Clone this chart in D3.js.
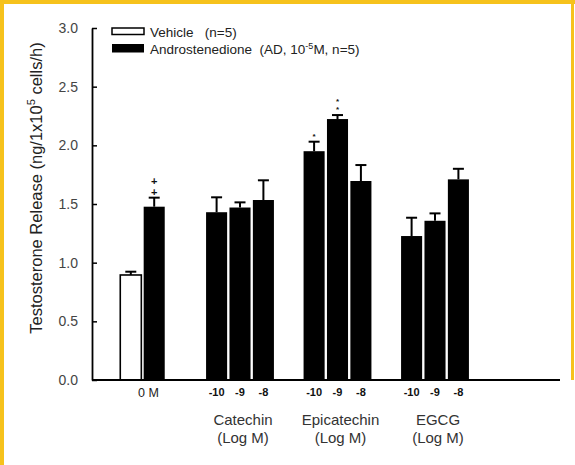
<!DOCTYPE html>
<html>
<head>
<meta charset="utf-8">
<script src="https://cdn.jsdelivr.net/npm/d3@7"></script>
<style>
  body { margin: 0; background: #fff; }
  svg { display: block; font-family: "Liberation Sans", Arial, sans-serif; }
</style>
</head>
<body>
<div id="chart"></div>
<script>
// groups along the x axis
var groups = ["0 M", "Catechin", "Epicatechin", "EGCG"];
var groupTicks = ["0 M", "", "", ""];
var groupNames = ["", "Catechin", "Epicatechin", "EGCG"];

// one entry per bar
var barGroup = ["0 M", "0 M", "Catechin", "Catechin", "Catechin",
  "Epicatechin", "Epicatechin", "Epicatechin", "EGCG", "EGCG", "EGCG"];
var barKey = ["veh", "ad", "-10", "-9", "-8", "-10", "-9", "-8", "-10", "-9", "-8"];
var barTick = ["", "", "-10", "-9", "-8", "-10", "-9", "-8", "-10", "-9", "-8"];
var barSeries = ["Vehicle", "AD", "AD", "AD", "AD", "AD", "AD", "AD", "AD", "AD", "AD"];
var means = [0.895, 1.477, 1.43, 1.47, 1.534, 1.95, 2.224, 1.696, 1.227, 1.357, 1.71];
var sems  = [0.028, 0.077, 0.127, 0.044, 0.168, 0.081, 0.034, 0.136, 0.156, 0.063, 0.09];
var marks = ["", "++", "", "", "", "*", "**", "", "", "", ""];

var yTicks = [0, 0.5, 1.0, 1.5, 2.0, 2.5, 3.0];

var W = 575, H = 465;
var margin = { top: 28, left: 92, bottom: 85 };

var svg = d3.select("#chart").append("svg")
  .attr("width", W).attr("height", H);

// yellow frame
var frame = "#f6c21c";
svg.append("line").attr("x1", 2).attr("x2", 2).attr("y1", 0).attr("y2", H)
  .attr("stroke", frame).attr("stroke-width", 4);
svg.append("line").attr("x1", 0).attr("x2", W).attr("y1", 2).attr("y2", 2)
  .attr("stroke", frame).attr("stroke-width", 4);
svg.append("line").attr("x1", 572.5).attr("x2", 572.5).attr("y1", 0).attr("y2", 380)
  .attr("stroke", frame).attr("stroke-width", 3);

var y = d3.scaleLinear().domain([0, 3]).range([H - margin.bottom, margin.top]);

var x = d3.scaleBand().domain(groups).range([93.75, 483.75]).padding(0);

var step = 23.4;
function inner(g) {
  var keys = barKey.filter(function (k, i) { return barGroup[i] == g; });
  var c = x(g) + x.bandwidth() / 2;
  return d3.scaleBand().domain(keys)
    .range([c - keys.length * step / 2, c + keys.length * step / 2])
    .paddingInner(0.1).paddingOuter(0.05);
}
var innerScales = {};
groups.forEach(function (g) { innerScales[g] = inner(g); });

var bars = means.map(function (m, i) {
  var s = innerScales[barGroup[i]];
  return { x: s(barKey[i]), w: s.bandwidth(), v: m, e: sems[i], series: barSeries[i], tick: barTick[i], mark: marks[i] };
});

// bars
svg.append("g").selectAll("rect").data(bars).enter().append("rect")
  .attr("x", function (d) { return d.x; })
  .attr("y", function (d) { return y(d.v); })
  .attr("width", function (d) { return d.w; })
  .attr("height", function (d) { return y(0) - y(d.v); })
  .attr("fill", function (d) { return d.series == "Vehicle" ? "#fff" : "#000"; })
  .attr("stroke", "#000")
  .attr("stroke-width", function (d) { return d.series == "Vehicle" ? 1.6 : 0; });

// error bars
var eb = svg.append("g").attr("stroke", "#000").attr("stroke-width", 2);
bars.forEach(function (d) {
  var cx = d.x + d.w / 2;
  eb.append("line").attr("x1", cx).attr("x2", cx)
    .attr("y1", y(d.v)).attr("y2", y(d.v + d.e));
  eb.append("line").attr("x1", cx - 5.5).attr("x2", cx + 5.5)
    .attr("y1", y(d.v + d.e)).attr("y2", y(d.v + d.e));
});

// significance marks, stacked upward in one text element
bars.forEach(function (d) {
  if (!d.mark) return;
  var cx = d.x + d.w / 2;
  var plus = d.mark[0] == "+";
  var gap = plus ? 11 : 8.2;
  var lift = plus ? 2 : 3;
  var n = d.mark.length;
  var t = svg.append("text")
    .attr("text-anchor", "middle")
    .attr("font-size", plus ? 11 : 8)
    .attr("font-weight", "bold")
    .attr("fill", "#111");
  d.mark.split("").forEach(function (ch, k) {
    t.append("tspan").attr("x", cx)
      .attr("y", y(d.v + d.e) - lift - (n - 1 - k) * gap)
      .text(ch);
  });
});

// y axis
svg.append("g")
  .attr("transform", "translate(" + margin.left + ",0)")
  .call(d3.axisLeft(y).tickValues(yTicks).tickFormat(d3.format(".1f"))
    .tickSizeInner(-5).tickSizeOuter(0).tickPadding(14))
  .call(function (g) {
    g.select(".domain").attr("stroke-width", 1.8);
    g.selectAll(".tick line").attr("stroke-width", 1.5);
    g.selectAll(".tick text").attr("font-size", 14).attr("fill", "#444")
      .attr("font-family", "Liberation Sans, Arial, sans-serif");
  });

// x baseline
svg.append("line")
  .attr("x1", margin.left).attr("x2", 560)
  .attr("y1", y(0)).attr("y2", y(0))
  .attr("stroke", "#000").attr("stroke-width", 2);

// bar tick labels
svg.append("g").selectAll("text").data(bars.filter(function (d) { return d.tick; }))
  .enter().append("text")
  .attr("x", function (d) { return d.x + d.w / 2; })
  .attr("y", 396)
  .attr("text-anchor", "middle")
  .attr("font-size", 11).attr("font-weight", "bold").attr("fill", "#111")
  .text(function (d) { return d.tick; });

groups.forEach(function (g, i) {
  var cx = x(g) + x.bandwidth() / 2;
  if (groupTicks[i]) {
    svg.append("text").attr("x", cx + 6).attr("y", 397)
      .attr("text-anchor", "middle").attr("font-size", 12.5).attr("fill", "#222")
      .text(groupTicks[i]);
  }
  if (groupNames[i]) {
    svg.append("text").attr("x", cx + 3).attr("y", 425)
      .attr("text-anchor", "middle").attr("font-size", 15).attr("fill", "#333")
      .text(groupNames[i]);
    svg.append("text").attr("x", cx + 3).attr("y", 443)
      .attr("text-anchor", "middle").attr("font-size", 15).attr("fill", "#333")
      .text("(Log M)");
  }
});

// y title
var yt = svg.append("text")
  .attr("transform", "translate(42," + (y(1.5) - 16) + ") rotate(-90)")
  .attr("text-anchor", "middle").attr("font-size", 16.5).attr("fill", "#222");
yt.append("tspan").text("Testosterone Release (ng/1x10");
yt.append("tspan").attr("font-size", 11).attr("dy", -7).text("5");
yt.append("tspan").attr("dy", 7).text(" cells/h)");

// legend
var lg = svg.append("g");
lg.append("rect").attr("x", 112).attr("y", 28).attr("width", 32).attr("height", 6.5)
  .attr("fill", "#fff").attr("stroke", "#000").attr("stroke-width", 1.5);
lg.append("rect").attr("x", 112).attr("y", 44).attr("width", 32).attr("height", 8.5)
  .attr("fill", "#000");
lg.append("text").attr("x", 150).attr("y", 37).attr("font-size", 13.5).attr("fill", "#222")
  .attr("xml:space", "preserve").text("Vehicle   (n=5)");
var t2 = lg.append("text").attr("x", 150).attr("y", 54).attr("font-size", 13.5).attr("fill", "#222")
  .attr("xml:space", "preserve");
t2.append("tspan").text("Androstenedione  (AD, 10");
t2.append("tspan").attr("font-size", 9).attr("dy", -5).text("-5");
t2.append("tspan").attr("dy", 5).text("M, n=5)");
</script>
</body>
</html>
